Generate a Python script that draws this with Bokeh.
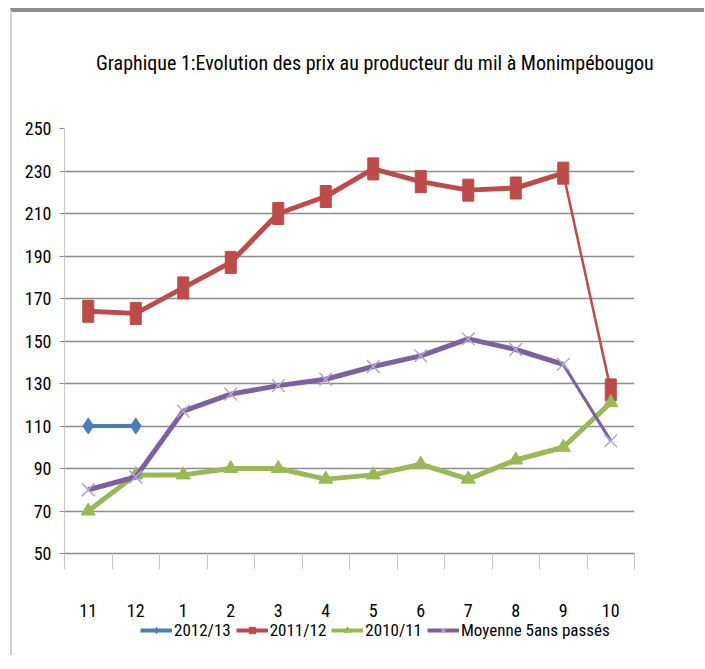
from bokeh.plotting import figure
from bokeh.layouts import column
from bokeh.models import FixedTicker, Legend, LegendItem, Label
from bokeh.embed import file_html
from bokeh.resources import INLINE

months = ["11", "12", "1", "2", "3", "4", "5", "6", "7", "8", "9", "10"]
s2012_13 = [110, 110]
s2011_12 = [164, 163, 175, 187, 210, 218, 231, 225, 221, 222, 229, 127]
s2010_11 = [70, 87, 87, 90, 90, 85, 87, 92, 85, 94, 100, 121]
moyenne = [80, 86, 117, 125, 129, 132, 138, 143, 151, 146, 139, 103]
yticks = [50, 70, 90, 110, 130, 150, 170, 190, 210, 230, 250]
series_names = ["2012/13", "2011/12", "2010/11", "Moyenne 5ans passés"]
title_text = "Graphique 1:Evolution des prix au producteur  du mil à Monimpébougou"

FONT = "Roboto Condensed, DejaVu Sans Condensed, Liberation Sans Narrow, sans-serif"
BLUE = "#4a7ebb"
RED = "#be4b48"
GREEN = "#98b954"
PURPLE = "#7d60a0"
XMARK = "#b3a6d4"
NAN = float("nan")

xs = list(range(1, len(months) + 1))
W = 692


def strip(height):
    f = figure(width=W, height=height, x_range=(0, 1), y_range=(0, 1),
               output_backend="svg", toolbar_location=None, frame_align=False,
               min_border_left=0, min_border_right=0, min_border_top=0, min_border_bottom=0)
    f.axis.visible = False
    f.grid.grid_line_color = None
    f.outline_line_color = None
    f.background_fill_color = "white"
    f.border_fill_color = "white"
    return f


# Title strip
tf = strip(100)
tf.add_layout(Label(x=0.527, y=0.5, text=title_text, text_font=FONT, text_font_size="20px",
                    text_align="center", text_baseline="middle", text_color="#000000"))

# Main chart
p = figure(width=W, height=508, x_range=(0.5, 12.5), y_range=(50, 250),
           output_backend="svg", toolbar_location=None, frame_align=False,
           min_border_left=52, min_border_right=70, min_border_top=16, min_border_bottom=67)

p.outline_line_color = None
p.background_fill_color = "white"
p.border_fill_color = "white"

p.xgrid.grid_line_color = None
p.ygrid.grid_line_color = "#8c8c8c"
p.ygrid.grid_line_width = 1.5
p.ygrid.ticker = FixedTicker(ticks=yticks)

p.yaxis.ticker = FixedTicker(ticks=yticks)
p.yaxis.axis_line_color = "#c8c8c8"
p.yaxis.major_tick_line_color = "#8c8c8c"
p.yaxis.major_tick_out = 5
p.yaxis.major_tick_in = 0
p.yaxis.minor_tick_line_color = None
p.yaxis.major_label_text_font = FONT
p.yaxis.major_label_text_font_size = "18px"
p.yaxis.major_label_text_color = "#000000"
p.yaxis.major_label_standoff = 8

p.xaxis.ticker = FixedTicker(ticks=xs, minor_ticks=[x + 0.5 for x in range(0, 13)])
p.xaxis.major_label_overrides = {x: m for x, m in zip(xs, months)}
p.xaxis.axis_line_color = "#8c8c8c"
p.xaxis.axis_line_width = 1.5
p.xaxis.major_tick_line_color = None
p.xaxis.minor_tick_line_color = "#c8c8c8"
p.xaxis.minor_tick_out = 16
p.xaxis.minor_tick_in = 0
p.xaxis.major_label_text_font = FONT
p.xaxis.major_label_text_font_size = "18px"
p.xaxis.major_label_text_color = "#000000"
p.xaxis.major_label_standoff = 34

# 2012/13
p.line(xs[:len(s2012_13)], s2012_13, line_color=BLUE, line_width=4)
p.scatter(xs[:len(s2012_13)], s2012_13, marker="diamond", size=16, fill_color=BLUE, line_color=BLUE)

# 2011/12 (last segment drawn thinner)
p.line(xs[:-1], s2011_12[:-1], line_color=RED, line_width=5)
p.line(xs[-2:], s2011_12[-2:], line_color=RED, line_width=2.5)
p.rect(xs, s2011_12, width=11, height=22, width_units="screen", height_units="screen",
       fill_color=RED, line_color=RED)

# 2010/11
p.line(xs, s2010_11, line_color=GREEN, line_width=5)
p.scatter(xs, s2010_11, marker="triangle", size=14, fill_color=GREEN, line_color=GREEN)

# Moyenne
p.line(xs[:-1], moyenne[:-1], line_color=PURPLE, line_width=5)
p.line(xs[-2:], moyenne[-2:], line_color=PURPLE, line_width=3)
p.scatter(xs, moyenne, marker="x", size=18, line_color=XMARK, line_width=1.5)

# Legend strip below the chart (renderers hold no visible point)
lg = strip(35)
l1 = lg.line([NAN], [NAN], line_color=BLUE, line_width=4)
m1 = lg.scatter([NAN], [NAN], marker="diamond", size=10, fill_color=BLUE, line_color=BLUE)
l2 = lg.line([NAN], [NAN], line_color=RED, line_width=4)
m2 = lg.scatter([NAN], [NAN], marker="square", size=9, fill_color=RED, line_color=RED)
l3 = lg.line([NAN], [NAN], line_color=GREEN, line_width=4)
m3 = lg.scatter([NAN], [NAN], marker="triangle", size=9, fill_color=GREEN, line_color=GREEN)
l4 = lg.line([NAN], [NAN], line_color=PURPLE, line_width=4)
m4 = lg.scatter([NAN], [NAN], marker="x", size=10, line_color=XMARK, line_width=1.5)
items = [LegendItem(label=name, renderers=rs)
         for name, rs in zip(series_names, [[l1, m1], [l2, m2], [l3, m3], [l4, m4]])]

legend = Legend(items=items, orientation="horizontal", location=(128, 15),
                background_fill_alpha=0, border_line_color=None,
                label_text_font=FONT, label_text_font_size="17px", label_text_color="#000000",
                label_height=16, glyph_height=16,
                glyph_width=32, spacing=5, label_standoff=2, padding=0, margin=0)
lg.add_layout(legend, "center")

layout = column(tf, p, lg, spacing=0)
layout.styles = {"margin-top": "8px", "margin-left": "10px",
                 "border-top": "4px solid #8c8c8c", "border-left": "2px solid #d0d0d0"}

open("out.html", "w").write(file_html(layout, INLINE))
